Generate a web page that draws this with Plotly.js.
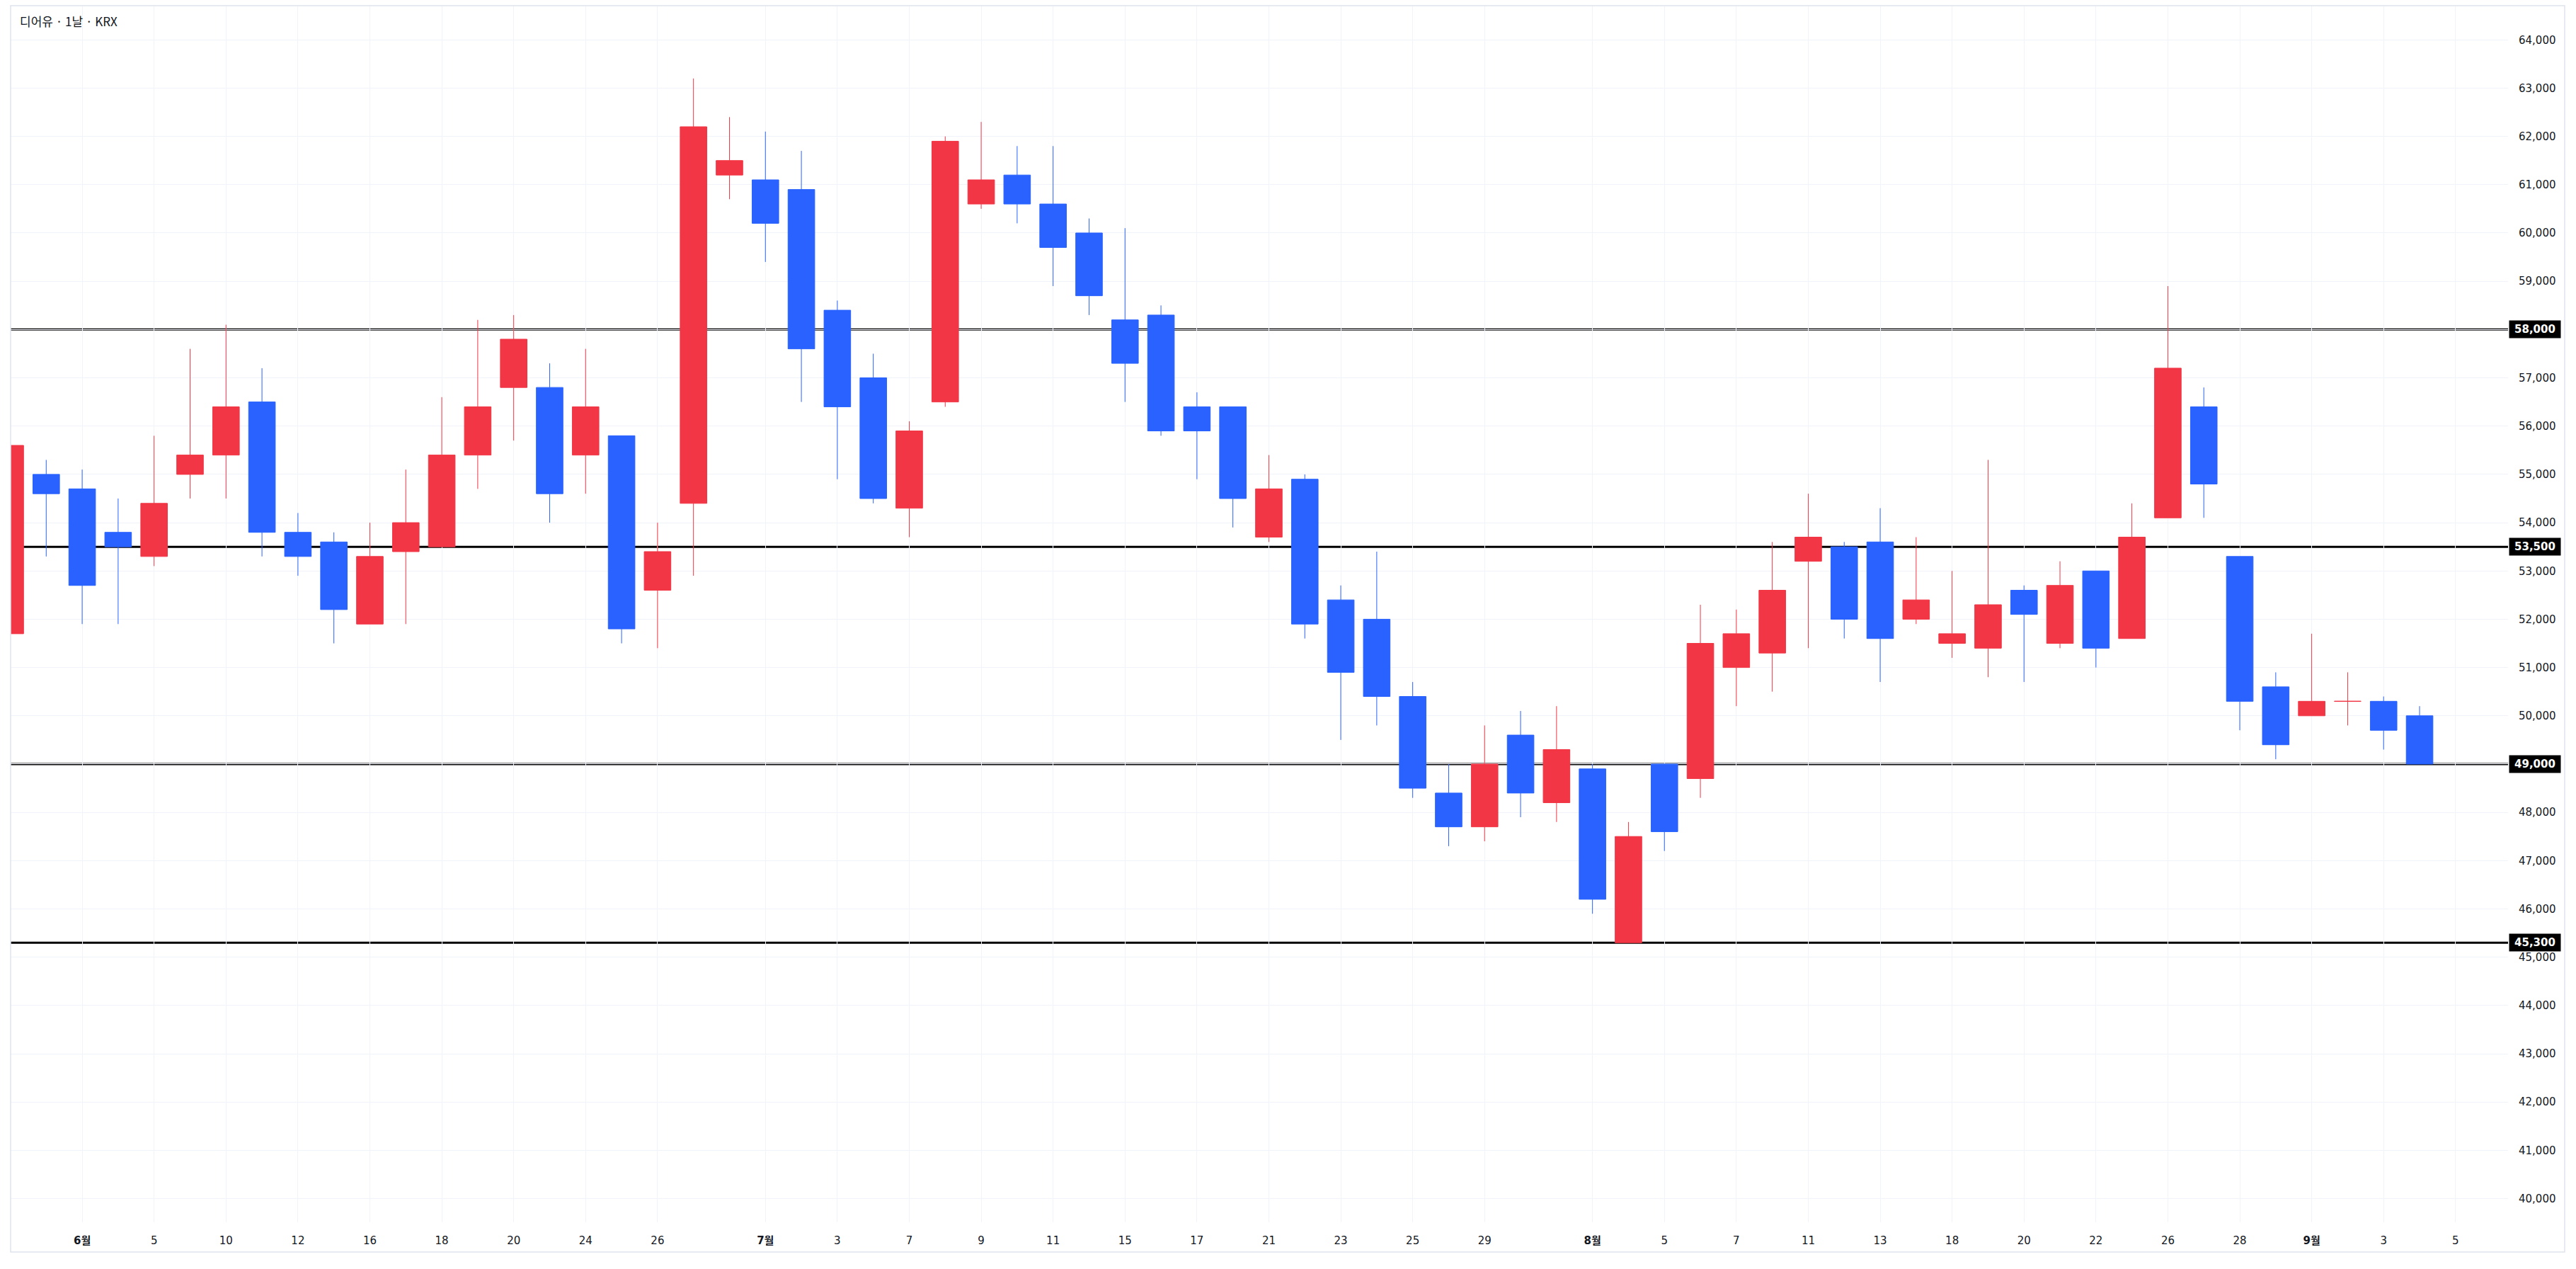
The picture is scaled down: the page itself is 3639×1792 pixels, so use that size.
<!DOCTYPE html>
<html>
<head>
<meta charset="utf-8">
<script src="https://cdn.plot.ly/plotly-3.0.1.min.js"></script>
<style>
  html, body { margin: 0; padding: 0; background: #ffffff; }
  #chart { width: 3639px; height: 1792px; }
</style>
</head>
<body>
<div id="chart"></div>
<script>
// ---- data (KRW, daily) ----
const dates = [
  '2025-05-29','2025-05-30','2025-06-02','2025-06-04','2025-06-05','2025-06-09','2025-06-10','2025-06-11',
  '2025-06-12','2025-06-13','2025-06-16','2025-06-17','2025-06-18','2025-06-19','2025-06-20','2025-06-23',
  '2025-06-24','2025-06-25','2025-06-26','2025-06-27','2025-06-30','2025-07-01','2025-07-02','2025-07-03',
  '2025-07-04','2025-07-07','2025-07-08','2025-07-09','2025-07-10','2025-07-11','2025-07-14','2025-07-15',
  '2025-07-16','2025-07-17','2025-07-18','2025-07-21','2025-07-22','2025-07-23','2025-07-24','2025-07-25',
  '2025-07-28','2025-07-29','2025-07-30','2025-07-31','2025-08-01','2025-08-04','2025-08-05','2025-08-06',
  '2025-08-07','2025-08-08','2025-08-11','2025-08-12','2025-08-13','2025-08-14','2025-08-18','2025-08-19',
  '2025-08-20','2025-08-21','2025-08-22','2025-08-25','2025-08-26','2025-08-27','2025-08-28','2025-08-29',
  '2025-09-01','2025-09-02','2025-09-03','2025-09-04'
];
const futureDates = ['2025-09-05'];

const openPrices = [
  51700,55000,54700,53800,53300,55000,55400,56500,
  53800,53600,51900,53400,53500,55400,56800,56800,
  55400,55800,52600,54400,61200,61100,60900,58400,
  57000,54300,56500,60600,61200,60600,60000,58200,
  58300,56400,56400,53700,54900,52400,52000,50400,
  48400,47700,49600,48200,48900,45300,49000,48700,
  51000,51300,53200,53500,53600,52000,51500,51400,
  52600,51500,53000,51600,54100,56400,53300,50600,
  50000,50300,50300,50000
];
const highPrices = [
  55700,55300,55100,54500,55800,57600,58100,57200,
  54200,53800,54000,55100,56600,58200,58300,57300,
  57600,55800,54000,63200,62400,62100,61700,58600,
  57500,56100,62000,62300,61800,61800,60300,60100,
  58500,56700,56400,55400,55000,52700,53400,50700,
  49000,49800,50100,50200,49000,47800,49000,52300,
  52200,53600,54600,53600,54300,53700,53000,55300,
  52700,53200,53000,54400,58900,56800,53300,50900,
  51700,50900,50400,50200
];
const lowPrices = [
  51600,53300,51900,51900,53100,54500,54500,53300,
  52900,51500,51900,51900,53500,54700,55700,54000,
  54600,51500,51400,52900,60700,59400,56500,54900,
  54400,53700,56400,60500,60200,58900,58300,56500,
  55800,54900,53900,53600,51600,49500,49800,48300,
  47300,47400,47900,47800,45900,45300,47200,48300,
  50200,50500,51400,51600,50700,51900,51200,50800,
  50700,51400,51000,51600,54100,54100,49700,49100,
  50000,49800,49300,49000
];
const closePrices = [
  55600,54600,52700,53500,54400,55400,56400,53800,
  53300,52200,53300,54000,55400,56400,57800,54600,
  56400,51800,53400,62200,61500,60200,57600,56400,
  54500,55900,61900,61100,60600,59700,58700,57300,
  55900,55900,54500,54700,51900,50900,50400,48500,
  47700,49000,48400,49300,46200,47500,47600,51500,
  51700,52600,53700,52000,51600,52400,51700,52300,
  52100,52700,51400,53700,57200,54800,50300,49400,
  50300,50300,49700,49000
];

// horizontal price levels
const levels = [58000, 53500, 49000, 45300];
const levelLabels = ['58,000', '53,500', '49,000', '45,300'];

// x-axis ticks
const tickDates = [
  '2025-06-02','2025-06-05','2025-06-10','2025-06-12','2025-06-16','2025-06-18','2025-06-20','2025-06-24','2025-06-26',
  '2025-07-01','2025-07-03','2025-07-07','2025-07-09','2025-07-11','2025-07-15','2025-07-17','2025-07-21','2025-07-23','2025-07-25','2025-07-29',
  '2025-08-01','2025-08-05','2025-08-07','2025-08-11','2025-08-13','2025-08-18','2025-08-20','2025-08-22','2025-08-26','2025-08-28',
  '2025-09-01','2025-09-03','2025-09-05'
];
const tickLabels = [
  '<b>6월</b>','5','10','12','16','18','20','24','26',
  '<b>7월</b>','3','7','9','11','15','17','21','23','25','29',
  '<b>8월</b>','5','7','11','13','18','20','22','26','28',
  '<b>9월</b>','3','5'
];

const chartTitle = '디어유 · 1날 · KRX';

// ---- build ----
const allDates = dates.concat(futureDates);
const xIdx = dates.map((d, i) => i);
const tickVals = tickDates.map(d => allDates.indexOf(d));

const RED = '#F23645';
const BLUE = '#2962FF';
const TXT = '#131722';

const trace = {
  type: 'candlestick',
  x: xIdx,
  open: openPrices,
  high: highPrices,
  low: lowPrices,
  close: closePrices,
  text: dates,
  hoverinfo: 'text+y',
  whiskerwidth: 0,
  increasing: { line: { color: RED, width: 1 }, fillcolor: RED },
  decreasing: { line: { color: BLUE, width: 1 }, fillcolor: BLUE },
  showlegend: false
};

const W = 3639, H = 1792;
const mL = 15, mR = 96, mT = 8, mB = 66;
const plotW = W - mL - mR, plotH = H - mT - mB;

const shapes = levels.map(v => ({
  type: 'line', xref: 'paper', yref: 'y', x0: 0, x1: 1, y0: v, y1: v,
  line: { color: '#000000', width: 3 }, layer: 'between'
}));
// outer frame
shapes.push({
  type: 'rect', xref: 'paper', yref: 'paper',
  x0: 0, x1: (3623 - mL) / plotW, y0: -(1768 - (H - mB)) / plotH, y1: 1,
  line: { color: '#e0e3eb', width: 1.5 }, fillcolor: 'rgba(0,0,0,0)', layer: 'above'
});

const annotations = levels.map((v, i) => ({
  xref: 'paper', yref: 'y', x: 1, y: v, xanchor: 'left', yanchor: 'middle',
  xshift: 1, text: '<b>' + levelLabels[i] + '</b>', showarrow: false,
  bgcolor: '#000000', width: 72, height: 24, align: 'center', borderpad: 0,
  font: { family: 'DejaVu Sans, sans-serif', size: 15, color: '#ffffff' }
}));

const layout = {
  width: W, height: H,
  margin: { l: mL, r: mR, t: mT, b: mB, pad: 0 },
  paper_bgcolor: '#ffffff', plot_bgcolor: '#ffffff',
  title: {
    text: chartTitle, xref: 'container', yref: 'container',
    x: 28 / W, xanchor: 'left', y: 1 - 31 / H, yanchor: 'middle',
    font: { family: 'Noto Sans CJK KR, sans-serif', size: 17, color: TXT }
  },
  boxgap: 0.26, boxgroupgap: 0,
  xaxis: {
    type: 'linear', range: [0.01, 69.46],
    tickmode: 'array', tickvals: tickVals, ticktext: tickLabels,
    showgrid: true, gridcolor: '#f0f3fa', gridwidth: 1,
    zeroline: false, showline: false,
    ticks: 'outside', ticklen: 12, tickcolor: 'rgba(0,0,0,0)',
    tickfont: { family: 'DejaVu Sans, Noto Sans CJK KR, sans-serif', size: 15, color: TXT },
    rangeslider: { visible: false }, fixedrange: true
  },
  yaxis: {
    side: 'right', range: [39510, 64708],
    tickmode: 'linear', tick0: 40000, dtick: 1000, tickformat: ',d',
    showgrid: true, gridcolor: '#f0f3fa', gridwidth: 1,
    zeroline: false, showline: false,
    ticks: 'outside', ticklen: 11, tickcolor: 'rgba(0,0,0,0)',
    tickfont: { family: 'DejaVu Sans, sans-serif', size: 15, color: TXT },
    fixedrange: true
  },
  shapes: shapes,
  annotations: annotations,
  hovermode: false
};

Plotly.newPlot('chart', [trace], layout, { displayModeBar: false, staticPlot: true });
</script>
</body>
</html>
